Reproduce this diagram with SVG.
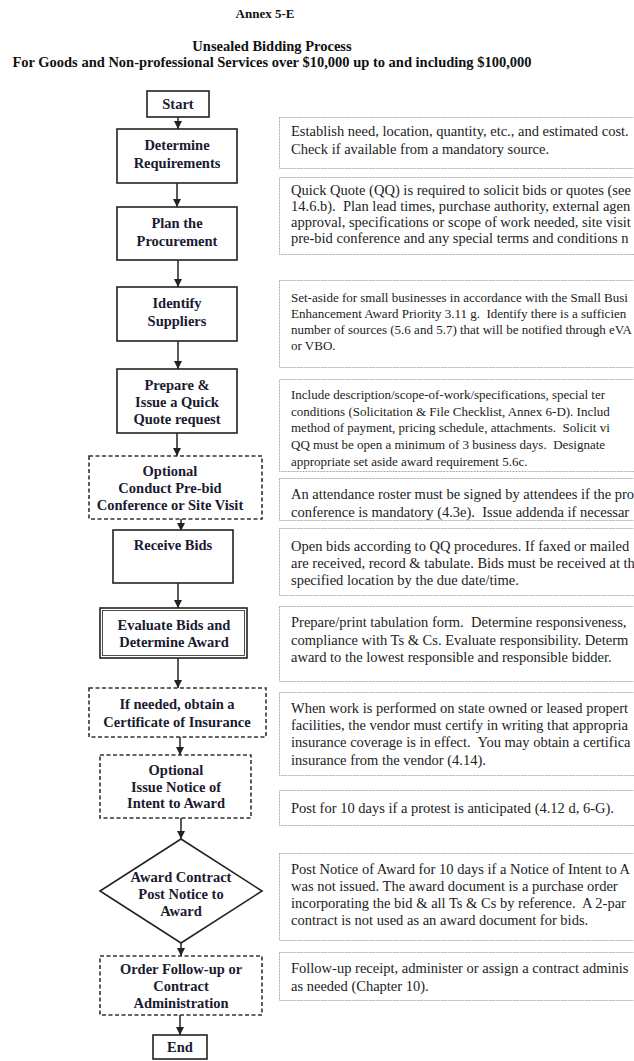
<svg xmlns="http://www.w3.org/2000/svg" width="634" height="1061" viewBox="0 0 634 1061" xml:space="preserve">
<style>
  text { white-space: pre; }
  .title { font-family: "Liberation Serif", "Times New Roman", serif; font-weight: bold; font-size: 14.5px; fill: #111; text-anchor: middle; }
  .nt { font-family: "Liberation Serif", "Times New Roman", serif; font-weight: bold; font-size: 14.5px; fill: #1a1a30; text-anchor: middle; dominant-baseline: central; }
  .solid { fill: #fff; stroke: #222; stroke-width: 1.6; }
  .dash { fill: #fff; stroke: #333; stroke-width: 1.6; stroke-dasharray: 4 2.5; }
  .note { fill: #fff; stroke: #aaa; stroke-width: 1; stroke-dasharray: 2 1; }
  .nx { font-family: "Liberation Serif", "Times New Roman", serif; font-size: 14.5px; fill: #222; dominant-baseline: central; }
  .nxs { font-size: 13px; }
  .conn { stroke: #222; stroke-width: 1.5; fill: none; marker-end: url(#ah); }
</style>
<defs>
  <marker id="ah" markerUnits="userSpaceOnUse" markerWidth="9" markerHeight="9" refX="8" refY="4" orient="auto">
    <path d="M0,0 L8,4 L0,8 z" fill="#222"/>
  </marker>
</defs>
<rect width="634" height="1061" fill="#fff"/>

<g id="header">
  <text class="title" x="265" y="18" style="font-size:13px">Annex 5-E</text>
  <text class="title" x="272" y="51">Unsealed Bidding Process</text>
  <text class="title" x="272" y="67">For Goods and Non-professional Services over $10,000 up to and including $100,000</text>
</g>

<g id="connectors">
  <line class="conn" x1="178" y1="117" x2="178" y2="129"/>
  <line class="conn" x1="177" y1="183" x2="177" y2="207"/>
  <line class="conn" x1="178" y1="260" x2="178" y2="287"/>
  <line class="conn" x1="178" y1="341" x2="178" y2="369"/>
  <line class="conn" x1="177" y1="433" x2="177" y2="456"/>
  <line class="conn" x1="181" y1="519" x2="181" y2="531"/>
  <line class="conn" x1="178" y1="583" x2="178" y2="608"/>
  <line class="conn" x1="178" y1="650" x2="178" y2="688"/>
  <line class="conn" x1="180" y1="730" x2="180" y2="755"/>
  <line class="conn" x1="181" y1="810" x2="181" y2="839"/>
  <line class="conn" x1="181" y1="943" x2="181" y2="956"/>
  <line class="conn" x1="180" y1="1015" x2="180" y2="1035"/>
</g>

<g id="n-start">
  <rect class="solid" x="147" y="91" width="62" height="26"/>
  <text class="nt" x="178" y="104">Start</text>
</g>
<g id="n-determine">
  <rect class="solid" x="117" y="129" width="120" height="54"/>
  <text class="nt" x="177" y="145">Determine</text>
  <text class="nt" x="177" y="163">Requirements</text>
</g>
<g id="n-plan">
  <rect class="solid" x="117" y="207" width="120" height="53"/>
  <text class="nt" x="177" y="223">Plan the</text>
  <text class="nt" x="177" y="241">Procurement</text>
</g>
<g id="n-identify">
  <rect class="solid" x="117" y="287" width="120" height="54"/>
  <text class="nt" x="177" y="303">Identify</text>
  <text class="nt" x="177" y="321">Suppliers</text>
</g>
<g id="n-prepare">
  <rect class="solid" x="117" y="369" width="120" height="64"/>
  <text class="nt" x="177" y="385">Prepare &amp;</text>
  <text class="nt" x="177" y="402">Issue a Quick</text>
  <text class="nt" x="177" y="419">Quote request</text>
</g>
<g id="n-prebid">
  <rect class="dash" x="89" y="456" width="173" height="63"/>
  <text class="nt" x="170" y="471">Optional</text>
  <text class="nt" x="170" y="488">Conduct Pre-bid</text>
  <text class="nt" x="170" y="505">Conference or Site Visit</text>
</g>
<g id="n-receive">
  <rect class="solid" x="113" y="530" width="120" height="53"/>
  <text class="nt" x="173" y="545">Receive Bids</text>
</g>
<g id="n-evaluate">
  <rect class="solid" x="100" y="608" width="147" height="50"/>
  <rect x="102.5" y="610.5" width="142" height="45" fill="none" stroke="#222" stroke-width="0.8"/>
  <text class="nt" x="174" y="625">Evaluate Bids and</text>
  <text class="nt" x="174" y="642">Determine Award</text>
</g>
<g id="n-insurance">
  <rect class="dash" x="89" y="688" width="177" height="49"/>
  <text class="nt" x="177" y="704">If needed, obtain a</text>
  <text class="nt" x="177" y="722">Certificate of Insurance</text>
</g>
<g id="n-intent">
  <rect class="dash" x="100" y="755" width="151" height="63"/>
  <text class="nt" x="176" y="770">Optional</text>
  <text class="nt" x="176" y="787">Issue Notice of</text>
  <text class="nt" x="176" y="803">Intent to Award</text>
</g>
<g id="n-award">
  <polygon class="solid" points="181,839 262,891 181,943 100,891"/>
  <text class="nt" x="181" y="877">Award Contract</text>
  <text class="nt" x="181" y="894">Post Notice to</text>
  <text class="nt" x="181" y="911">Award</text>
</g>
<g id="n-followup">
  <rect class="dash" x="100" y="956" width="162" height="59"/>
  <text class="nt" x="181" y="969">Order Follow-up or</text>
  <text class="nt" x="181" y="986">Contract</text>
  <text class="nt" x="181" y="1003">Administration</text>
</g>
<g id="n-end">
  <rect class="solid" x="153" y="1035" width="54" height="24"/>
  <text class="nt" x="180" y="1047">End</text>
</g>

<g id="note1">
  <rect class="note" x="279.5" y="117.5" width="370" height="51"/>
  <text class="nx" x="291" y="131">Establish need, location, quantity, etc., and estimated cost.</text>
  <text class="nx" x="291" y="149">Check if available from a mandatory source.</text>
</g>
<g id="note2">
  <rect class="note" x="279.5" y="177.5" width="370" height="77"/>
  <text class="nx" x="291" y="190">Quick Quote (QQ) is required to solicit bids or quotes (see</text>
  <text class="nx" x="291" y="206">14.6.b).  Plan lead times, purchase authority, external agen</text>
  <text class="nx" x="291" y="222">approval, specifications or scope of work needed, site visit</text>
  <text class="nx" x="291" y="238">pre-bid conference and any special terms and conditions n</text>
</g>
<g id="note3">
  <rect class="note" x="279.5" y="280.5" width="370" height="87"/>
  <text class="nx nxs" x="291" y="297">Set-aside for small businesses in accordance with the Small Busi</text>
  <text class="nx nxs" x="291" y="313">Enhancement Award Priority 3.11 g.  Identify there is a sufficien</text>
  <text class="nx nxs" x="291" y="329">number of sources (5.6 and 5.7) that will be notified through eVA</text>
  <text class="nx nxs" x="291" y="345">or VBO.</text>
</g>
<g id="note4">
  <rect class="note" x="279.5" y="379.5" width="370" height="92"/>
  <text class="nx nxs" x="291" y="394">Include description/scope-of-work/specifications, special ter</text>
  <text class="nx nxs" x="291" y="411">conditions (Solicitation &amp; File Checklist, Annex 6-D). Includ</text>
  <text class="nx nxs" x="291" y="427">method of payment, pricing schedule, attachments.  Solicit vi</text>
  <text class="nx nxs" x="291" y="444">QQ must be open a minimum of 3 business days.  Designate</text>
  <text class="nx nxs" x="291" y="461">appropriate set aside award requirement 5.6c.</text>
</g>
<g id="note5">
  <rect class="note" x="279.5" y="478.5" width="370" height="42"/>
  <text class="nx" x="291" y="494">An attendance roster must be signed by attendees if the pro</text>
  <text class="nx" x="291" y="512">conference is mandatory (4.3e).  Issue addenda if necessar</text>
</g>
<g id="note6">
  <rect class="note" x="279.5" y="528.5" width="370" height="67"/>
  <text class="nx" x="291" y="546">Open bids according to QQ procedures. If faxed or mailed</text>
  <text class="nx" x="291" y="563">are received, record &amp; tabulate. Bids must be received at th</text>
  <text class="nx" x="291" y="580">specified location by the due date/time.</text>
</g>
<g id="note7">
  <rect class="note" x="279.5" y="606.5" width="370" height="75"/>
  <text class="nx" x="291" y="622">Prepare/print tabulation form.  Determine responsiveness,</text>
  <text class="nx" x="291" y="640">compliance with Ts &amp; Cs. Evaluate responsibility. Determ</text>
  <text class="nx" x="291" y="657">award to the lowest responsible and responsible bidder.</text>
</g>
<g id="note8">
  <rect class="note" x="279.5" y="692.5" width="370" height="83"/>
  <text class="nx" x="291" y="708">When work is performed on state owned or leased propert</text>
  <text class="nx" x="291" y="725">facilities, the vendor must certify in writing that appropria</text>
  <text class="nx" x="291" y="742">insurance coverage is in effect.  You may obtain a certifica</text>
  <text class="nx" x="291" y="760">insurance from the vendor (4.14).</text>
</g>
<g id="note9">
  <rect class="note" x="279.5" y="790.5" width="370" height="35"/>
  <text class="nx" x="291" y="808">Post for 10 days if a protest is anticipated (4.12 d, 6-G).</text>
</g>
<g id="note10">
  <rect class="note" x="279.5" y="853.5" width="370" height="87"/>
  <text class="nx" x="291" y="869">Post Notice of Award for 10 days if a Notice of Intent to A</text>
  <text class="nx" x="291" y="886">was not issued. The award document is a purchase order</text>
  <text class="nx" x="291" y="903">incorporating the bid &amp; all Ts &amp; Cs by reference.  A 2-par</text>
  <text class="nx" x="291" y="920">contract is not used as an award document for bids.</text>
</g>
<g id="note11">
  <rect class="note" x="279.5" y="952.5" width="370" height="48"/>
  <text class="nx" x="291" y="968">Follow-up receipt, administer or assign a contract adminis</text>
  <text class="nx" x="291" y="986">as needed (Chapter 10).</text>
</g>
</svg>
